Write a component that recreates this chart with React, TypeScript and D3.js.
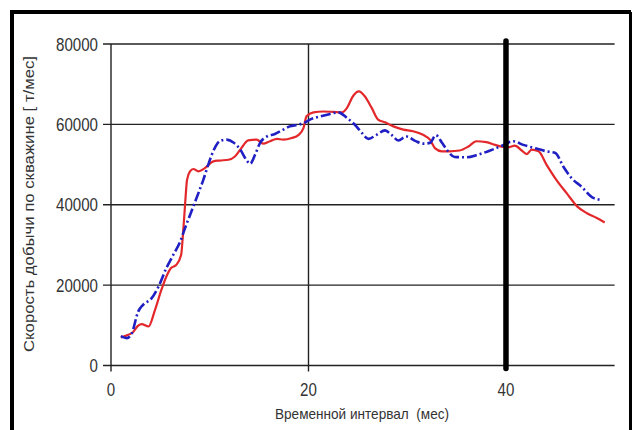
import React from 'react';
import * as d3 from 'd3';

// red (solid) series
const redMonths = [
  1.0, 1.6, 2.2, 2.75, 3.1, 3.8, 4.45, 5.1, 5.6, 6.1,
  6.6, 7.1, 7.3, 7.5, 7.7, 8.0, 8.34, 8.85, 9.5, 10.36,
  11.0, 11.9, 12.55, 13.2, 13.9, 14.75, 15.4, 16.1, 16.8, 17.45,
  18.3, 19.0, 19.5, 19.8, 20.5, 21.5, 22.5, 23.4, 23.9, 24.5,
  25.1, 25.7, 26.4, 27.05, 27.75, 28.6, 29.6, 30.6, 31.6, 32.3,
  32.8, 33.5, 34.3, 35.3, 36.2, 37.0, 38.0, 38.9, 39.7, 40.2,
  40.9, 41.6, 42.1, 42.6, 43.3, 44.1, 45.1, 46.2, 47.2, 48.2,
  49.2, 50.0,
];
const redRates = [
  7000, 7500, 8200, 9900, 10300, 9700, 13800, 18800, 22100, 24300,
  25000, 27500, 33000, 40000, 46200, 48300, 48900, 48300, 49100, 50800,
  51000, 51200, 52000, 54100, 56000, 56200, 55200, 55800, 56400, 56200,
  56600, 57400, 59100, 62000, 63000, 63200, 63100, 63000, 64100, 67000,
  68200, 67000, 64100, 61200, 60500, 59500, 58700, 58300, 57400, 56200,
  54100, 53300, 53300, 53500, 54500, 55800, 55600, 54900, 54400, 54300,
  54700, 53500, 52600, 53700, 53300, 50000, 46200, 42700, 39600, 37900,
  36700, 35600,
];

// blue (dash-dot) series
const blueMonths = [
  1.0, 1.6, 2.1, 2.75, 3.25, 4.1, 4.8, 5.6, 6.3, 7.0,
  7.5, 8.2, 8.85, 9.35, 9.85, 10.5, 11.0, 11.7, 12.4, 13.1,
  13.7, 14.1, 14.6, 15.1, 15.8, 16.6, 17.45, 18.1, 18.9, 19.6,
  20.15, 21.2, 22.2, 23.0, 23.9, 24.7, 25.4, 26.06, 26.9, 27.75,
  28.4, 29.1, 29.9, 30.8, 31.6, 32.3, 32.9, 33.5, 34.0, 34.8,
  36.0, 37.2, 38.4, 39.6, 40.75, 41.75, 42.9, 44.1, 45.0, 45.8,
  46.65, 47.7, 48.7, 49.7,
];
const blueRates = [
  7300, 6800, 8000, 13400, 15100, 16700, 19600, 24200, 27500, 30800,
  34200, 38700, 42900, 46200, 50000, 54100, 55800, 56200, 55500, 53700,
  51200, 50200, 52500, 55400, 57000, 57600, 58700, 59500, 59900, 60400,
  61200, 62000, 62600, 63000, 61600, 59900, 57900, 56400, 57400, 58500,
  57400, 56000, 57000, 55900, 55200, 55400, 57300, 55500, 53700, 51900,
  51800, 52500, 53500, 54700, 55800, 54900, 54100, 53300, 52900, 49500,
  46600, 44400, 41900, 41200,
];

const xTicks = [0, 20, 40];
const yTicks = [0, 20000, 40000, 60000, 80000];
const markerMonth = 40;

const W = 632;
const H = 430;
const font = "'Liberation Sans', Arial, sans-serif";

export default function App() {
  const x = d3.scaleLinear().domain([0, 51]).range([111, 614.6]);
  const y = d3.scaleLinear().domain([0, 80000]).range([365.5, 44]);

  const line = d3
    .line<[number, number]>()
    .x((d) => x(d[0]))
    .y((d) => y(d[1]))
    .curve(d3.curveMonotoneX);

  const red = redMonths.map((m, i) => [m, redRates[i]] as [number, number]);
  const blue = blueMonths.map((m, i) => [m, blueRates[i]] as [number, number]);

  return (
    <svg
      width={W}
      height={H}
      style={{ position: 'absolute', left: 0, top: 0, background: '#fff' }}
    >
      <rect x={0} y={0} width={W} height={H} fill="#fff" />
      {/* frame */}
      <line x1={12} y1={12} x2={12} y2={H + 5} stroke="#000" strokeWidth={4} />
      <line x1={10} y1={12} x2={631} y2={12} stroke="#000" strokeWidth={4} />
      <line x1={630.5} y1={12} x2={630.5} y2={H + 5} stroke="#000" strokeWidth={3} />

      {/* horizontal grid + y ticks */}
      {yTicks.map((t) => (
        <g key={t}>
          <line x1={103} x2={x(51)} y1={y(t)} y2={y(t)} stroke="#222" strokeWidth={1.4} />
          <text
            transform={`translate(98,${y(t) + 6.5}) scale(0.84,1)`}
            textAnchor="end"
            fontFamily={font}
            fontSize={18}
            fill="#333"
          >
            {t}
          </text>
        </g>
      ))}

      {/* vertical grid + x ticks */}
      {xTicks.map((t) => (
        <g key={t}>
          {t !== markerMonth && (
            <line x1={x(t)} x2={x(t)} y1={y(80000)} y2={y(0) + 6} stroke="#222" strokeWidth={1.4} />
          )}
          <text
            transform={`translate(${x(t)},${y(0) + 30}) scale(0.84,1)`}
            textAnchor="middle"
            fontFamily={font}
            fontSize={18}
            fill="#333"
          >
            {t}
          </text>
        </g>
      ))}

      {/* series */}
      <path d={line(red) ?? ''} fill="none" stroke="#e3282b" strokeWidth={2.2} strokeLinejoin="round" />
      <path
        d={line(blue) ?? ''}
        fill="none"
        stroke="#1f1fc4"
        strokeWidth={2.6}
        strokeDasharray="10,3,2,3"
      />

      {/* marker at 40 months */}
      <line
        x1={x(markerMonth)}
        x2={x(markerMonth)}
        y1={41}
        y2={y(0) + 3}
        stroke="#000"
        strokeWidth={5.5}
        strokeLinecap="round"
      />

      {/* axis titles */}
      <text
        x={362}
        y={419}
        textAnchor="middle"
        fontFamily={font}
        fontSize={15}
        fill="#333"
        textLength={174}
        lengthAdjust="spacingAndGlyphs"
        style={{ whiteSpace: 'pre' }}
      >
        Временной интервал  (мес)
      </text>
      <text
        transform="translate(34,204) rotate(-90)"
        textAnchor="middle"
        fontFamily={font}
        fontSize={15}
        fill="#333"
        textLength={296}
        lengthAdjust="spacingAndGlyphs"
      >
        Скорость добычи по скважине [ т/мес]
      </text>
    </svg>
  );
}
